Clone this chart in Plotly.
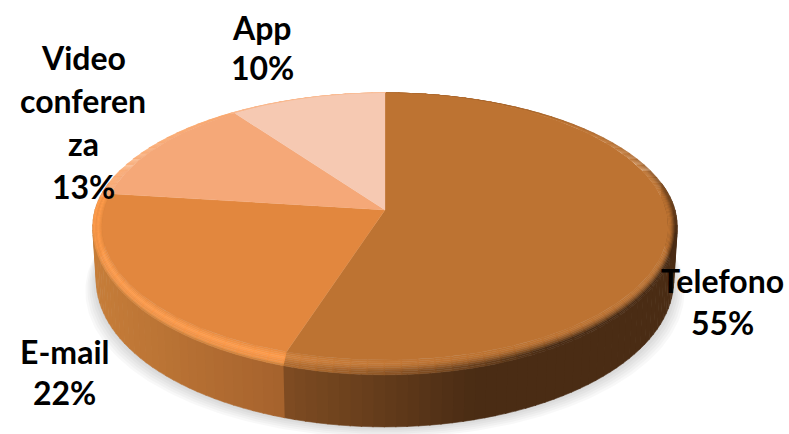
import numpy as np
import plotly.graph_objects as go

# ---- data ----
categories = ["Telefono", "E-mail", "Videoconferenza", "App"]
values = [55, 22, 13, 10]
label_lines = [["Telefono"], ["E-mail"], ["Video", "conferen", "za"], ["App"]]

# ---- styles ----
face_colors = ["#bd7332", "#e2873e", "#f5a878", "#f6c9b2"]
FONT = dict(family="Lato, 'Open Sans', sans-serif", size=32, color="#000000")
label_centers = {"Telefono": (722, [280, 322]),
                 "E-mail": (64, [351, 392]),
                 "Videoconferenza": (83, [57, 100, 143, 186]),
                 "App": (262, [27, 67])}

# ---- projection of the pie disc into the page ----
CX, CY, RX, RY, P = 385, 210, 281, 131.5, 0.1236
RIM_X, RIM_Y, DEPTH = 9, 13, 52


def hexrgb(c):
    return np.array([int(c[i:i + 2], 16) for i in (1, 3, 5)], float)


def mix(a, b, t):
    t = float(np.clip(t, 0, 1))
    v = hexrgb(a) * (1 - t) + hexrgb(b) * t
    return "#%02x%02x%02x" % tuple(int(n) for n in v.round())


def project(deg, t=0.0, drop=0.0):
    th = np.radians(deg)
    u, v = np.sin(th), np.cos(th)
    w = 1 + P * v
    ry = RY + t * RIM_Y * (v < 0)
    scale = 1 - 0.012 * (drop > 0)
    return CX + (RX + t * RIM_X) * u / w * scale, CY - ry * v / w + drop


fig = go.Figure()


def poly(xs, ys, color, lw=0.6):
    fig.add_trace(go.Scatter(x=xs, y=ys, mode="lines", fill="toself", fillcolor=color,
                             line=dict(color=color, width=lw), hoverinfo="skip",
                             showlegend=False))


edges = np.concatenate([[0], np.cumsum(values)]) * 3.6
tele_end, mail_end = edges[1], edges[2]

# soft drop shadow
for g in np.linspace(11, 1, 6):
    a = np.linspace(70, 290, 200)
    xo, yo = project(a, 1, 52 + g)
    xi = CX + (xo - CX) * (1 + g / 290)
    poly(xi, yo, "rgba(0,0,0,0.028)", 0)

# side wall
a_side = np.arange(78, 284, 2.0)
for a0, a1 in zip(a_side[:-1], a_side[1:]):
    x0, y0 = project(np.array([a0, a1 + 0.2]), 1)
    x1, y1 = project(np.array([a1 + 0.2, a0]), 1, DEPTH)
    mx = (x0.mean() - 94) / 190
    if (a0 + a1) / 2 < tele_end:
        col = mix("#7f4c22", "#4a2c14", (x0.mean() - 283) / 190)
    else:
        col = mix("#c67d39", "#a5622d", mx)
    poly(np.concatenate([x0, x1]), np.concatenate([y0, y1]), col)

# bevelled rim
bands = np.linspace(0, 1, 9)
a_rim = np.arange(0, 360, 3.0)
for a0 in a_rim:
    a1 = a0 + 3.2
    mid = a0 + 1.5
    idx = np.searchsorted(edges, mid) - 1
    base = face_colors[idx]
    for t0, t1 in zip(bands[:-1], bands[1:]):
        tm = (t0 + t1) / 2
        if idx == 0:
            # soft dark falloff toward the outer edge, faint glow near the E-mail boundary
            glow = np.clip((mid - 165) / 33, 0, 1) * 0.4 * max(0, 1 - abs(tm - 0.35) / 0.5)
            dark = np.clip((mid - 60) / 40, 0, 1) * np.clip((tm - 0.2) / 0.6, 0, 1) ** 1.5
            dark *= np.clip((200 - mid) / 50, 0.12, 1)
            upper = np.clip((90 - mid) / 60, 0, 1) * np.clip((tm - 0.6) / 0.4, 0, 1) * 0.3
            c = mix(mix(base, "#f09a50", glow), "#4a2c14", max(dark, upper))
        elif idx == 1:
            c = mix(base, "#ff9c4c", 1 - abs(tm - 0.45) / 0.55)
            if tm > 0.75:
                c = mix("#ff9c4c", "#c67d39", (tm - 0.75) * 4 * np.clip((270 - mid) / 30, 0, 1))
        else:
            c = mix(base, "#ffa868", 0.6 * tm)
        xa, ya = project(np.array([a0, a1]), t0)
        xb, yb = project(np.array([a1, a0]), t1)
        poly(np.concatenate([xa, xb]), np.concatenate([ya, yb]), c, 0.4)

# top face slices
for i, col in enumerate(face_colors):
    a = np.linspace(edges[i], edges[i + 1], 120)
    x, y = project(a)
    poly(np.concatenate([[CX], x, [CX]]), np.concatenate([[CY], y, [CY]]), col, 0.3)

# labels
for name, val, lines in zip(categories, values, label_lines):
    xc, ys = label_centers[name]
    for txt, yy in zip(lines + [f"{val}%"], ys):
        fig.add_annotation(x=xc, y=yy, text=f"<b>{txt}</b>", showarrow=False, font=FONT,
                           xanchor="center", yanchor="middle")

fig.update_layout(width=789, height=434, margin=dict(l=0, r=0, t=0, b=0),
                  paper_bgcolor="white", plot_bgcolor="white", showlegend=False,
                  hovermode=False,
                  xaxis=dict(range=[0, 789], visible=False, fixedrange=True),
                  yaxis=dict(range=[434, 0], visible=False, fixedrange=True))
fig.write_html("out.html", config=dict(displayModeBar=False),
               post_script="document.body.style.margin='0';document.documentElement.style.overflow='hidden';")
